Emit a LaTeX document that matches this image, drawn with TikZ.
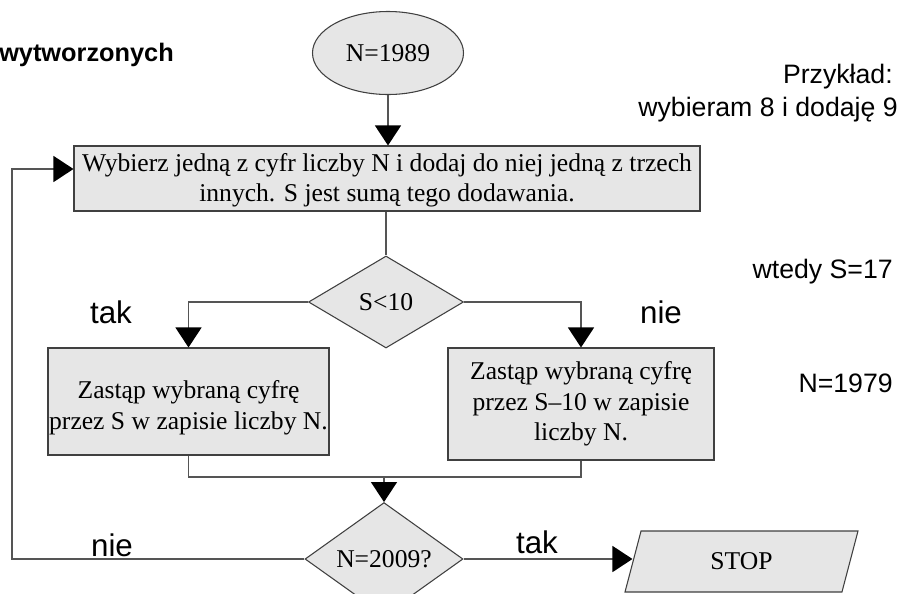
\documentclass[tikz,border=0pt]{standalone}
\usepackage{fontspec}
\setmainfont{Liberation Serif}
\newfontfamily\arialfont{Liberation Sans}
\usepackage{xcolor}
\usepackage{tikz}
\usetikzlibrary{arrows.meta,shapes}
\definecolor{boxfill}{RGB}{230,230,230}
\definecolor{wiregray}{RGB}{85,85,85}

\begin{document}
\begin{tikzpicture}[x=0.75pt,y=-0.75pt,
  >={Triangle[width=19.5pt,length=15pt,color=black]},
  block/.style={draw=black!75,fill=boxfill,line width=0.8pt,inner sep=0pt,align=center,font=\fontsize{19.2}{23}\selectfont},
  cond/.style={diamond,draw=black!75,fill=boxfill,line width=0.8pt,inner sep=0pt,font=\fontsize{19.2}{23}\selectfont},
  tag/.style={font=\arialfont\fontsize{23.5}{28}\selectfont,inner sep=0pt},
  note/.style={font=\arialfont\fontsize{20}{24}\selectfont,inner sep=0pt,anchor=east},
  link/.style={draw=wiregray,line width=1pt}]
\useasboundingbox (0,0) rectangle (903,593);
\node[font=\arialfont\bfseries\fontsize{19}{23}\selectfont,inner sep=0pt,anchor=west](made) at (-1,55) {wytworzonych};
\node[block,ellipse,minimum width=113.25pt,minimum height=62.25pt](start) at (388,53) {N=1989};
\node[block,minimum width=469.5pt,minimum height=48.75pt](choose) at (387,178.5) {\rule{0pt}{16pt}Wybierz jedną z cyfr liczby N i dodaj do niej jedną z trzech\\innych. S jest sumą tego dodawania.};
\node[cond,minimum width=116.25pt,minimum height=69pt](small) at (386,302) {S<10};
\node[block,minimum width=210.75pt,minimum height=80.25pt](keep) at (188.5,401.5) {\rule{0pt}{23pt}Zastąp wybraną cyfrę\\przez S w zapisie liczby N.};
\node[block,minimum width=199.5pt,minimum height=84pt](reduce) at (581,404) {Zastąp wybraną cyfrę\\przez S–10 w zapisie\\liczby N.};
\node[cond,minimum width=118.5pt,minimum height=70.5pt](done) at (384,559) {N=2009?};
\node[block,trapezium,trapezium left angle=47,trapezium right angle=133,trapezium stretches body,minimum width=174.75pt,minimum height=45.75pt](stop) at (741.5,561.5) {STOP};
\node[tag](yes1) at (111,312) {tak};
\node[tag](no1) at (661,312) {nie};
\node[tag](no2) at (112,545) {nie};
\node[tag](yes2) at (537,542) {tak};
\node[note](ex) at (893,77) {Przykład:};
\node[note](pick) at (898,110) {wybieram 8 i dodaję 9};
\node[note](sum) at (893,272) {wtedy S=17};
\node[note](result) at (893,383) {N=1979};
\draw[link,->](start.south)--(start.south |- choose.north);
\draw[link](small.north |- choose.south)--(small.north);
\draw[link,->](small.west)-|(keep.north);
\draw[link,->](small.east)-|(reduce.north);
\coordinate(merge) at (384,477);
\draw[link](keep.south)|-(merge)-|(reduce.south);
\draw[link,->](merge)--(done.north);
\coordinate(back) at (12,169);
\draw[link,->](done.west)-|(back)--(choose.west |- back);
\draw[link,->](done.east)--(done.east -| stop.west);
\end{tikzpicture}
\end{document}
